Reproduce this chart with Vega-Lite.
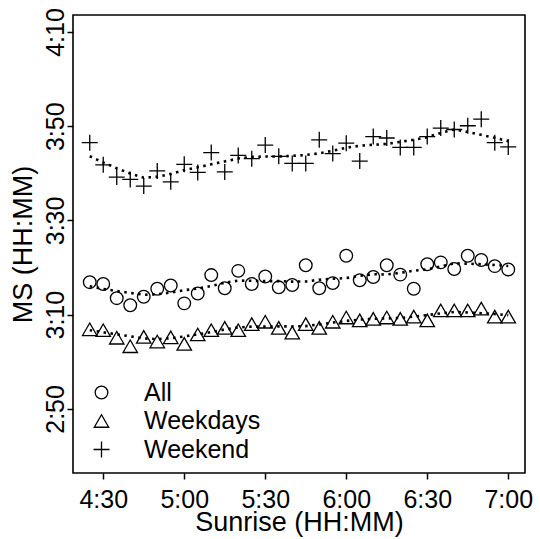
{
  "$schema": "https://vega.github.io/schema/vega-lite/v6.json",
  "width": 452,
  "height": 458,
  "autosize": {"type": "none"},
  "padding": {"left": 73, "top": 15, "right": 15, "bottom": 66},
  "background": "white",
  "config": {
    "view": {"stroke": "black", "strokeWidth": 1.6},
    "font": "Liberation Sans",
    "axis": {
      "grid": false,
      "domain": false,
      "tickColor": "black",
      "tickWidth": 1.5,
      "tickSize": 6,
      "labelColor": "black",
      "labelFontSize": 25,
      "labelFont": "Liberation Sans",
      "titleColor": "black",
      "titleFontSize": 27,
      "titleFontWeight": "normal",
      "titleFont": "Liberation Sans",
      "labelExpr": "floor(datum.value/60) + ':' + (datum.value % 60 < 10 ? '0' : '') + (datum.value % 60)"
    },
    "legend": {
      "title": null,
      "orient": "none",
      "legendX": 16,
      "legendY": 365,
      "padding": 0,
      "symbolStrokeColor": "black",
      "symbolStrokeWidth": 1.3,
      "symbolFillColor": "transparent",
      "labelFontSize": 25,
      "labelColor": "black",
      "labelFont": "Liberation Sans",
      "labelOffset": 30,
      "rowPadding": 2.5
    }
  },
  "data": {
    "values": [
      {"sunrise": 265, "series": "Weekend", "ms": 226.5},
      {"sunrise": 270, "series": "Weekend", "ms": 221.8},
      {"sunrise": 275, "series": "Weekend", "ms": 219.2},
      {"sunrise": 280, "series": "Weekend", "ms": 218.7},
      {"sunrise": 285, "series": "Weekend", "ms": 217.3},
      {"sunrise": 290, "series": "Weekend", "ms": 220.5},
      {"sunrise": 295, "series": "Weekend", "ms": 218.2},
      {"sunrise": 300, "series": "Weekend", "ms": 221.9},
      {"sunrise": 305, "series": "Weekend", "ms": 220.2},
      {"sunrise": 310, "series": "Weekend", "ms": 224.4},
      {"sunrise": 315, "series": "Weekend", "ms": 220.3},
      {"sunrise": 320, "series": "Weekend", "ms": 223.8},
      {"sunrise": 325, "series": "Weekend", "ms": 223.1},
      {"sunrise": 330, "series": "Weekend", "ms": 226.0},
      {"sunrise": 335, "series": "Weekend", "ms": 223.6},
      {"sunrise": 340, "series": "Weekend", "ms": 222.1},
      {"sunrise": 345, "series": "Weekend", "ms": 222.1},
      {"sunrise": 350, "series": "Weekend", "ms": 227.1},
      {"sunrise": 355, "series": "Weekend", "ms": 224.2},
      {"sunrise": 360, "series": "Weekend", "ms": 226.4},
      {"sunrise": 365, "series": "Weekend", "ms": 222.6},
      {"sunrise": 370, "series": "Weekend", "ms": 227.8},
      {"sunrise": 375, "series": "Weekend", "ms": 227.5},
      {"sunrise": 380, "series": "Weekend", "ms": 225.5},
      {"sunrise": 385, "series": "Weekend", "ms": 225.5},
      {"sunrise": 390, "series": "Weekend", "ms": 227.8},
      {"sunrise": 395, "series": "Weekend", "ms": 229.6},
      {"sunrise": 400, "series": "Weekend", "ms": 229.3},
      {"sunrise": 405, "series": "Weekend", "ms": 230.1},
      {"sunrise": 410, "series": "Weekend", "ms": 231.5},
      {"sunrise": 415, "series": "Weekend", "ms": 226.5},
      {"sunrise": 420, "series": "Weekend", "ms": 225.6},
      {"sunrise": 265, "series": "All", "ms": 196.9},
      {"sunrise": 270, "series": "All", "ms": 196.5},
      {"sunrise": 275, "series": "All", "ms": 193.5},
      {"sunrise": 280, "series": "All", "ms": 192.0},
      {"sunrise": 285, "series": "All", "ms": 193.8},
      {"sunrise": 290, "series": "All", "ms": 195.5},
      {"sunrise": 295, "series": "All", "ms": 196.2},
      {"sunrise": 300, "series": "All", "ms": 192.4},
      {"sunrise": 305, "series": "All", "ms": 194.5},
      {"sunrise": 310, "series": "All", "ms": 198.4},
      {"sunrise": 315, "series": "All", "ms": 195.6},
      {"sunrise": 320, "series": "All", "ms": 199.3},
      {"sunrise": 325, "series": "All", "ms": 196.5},
      {"sunrise": 330, "series": "All", "ms": 198.1},
      {"sunrise": 335, "series": "All", "ms": 195.8},
      {"sunrise": 340, "series": "All", "ms": 196.3},
      {"sunrise": 345, "series": "All", "ms": 200.5},
      {"sunrise": 350, "series": "All", "ms": 195.6},
      {"sunrise": 355, "series": "All", "ms": 196.7},
      {"sunrise": 360, "series": "All", "ms": 202.5},
      {"sunrise": 365, "series": "All", "ms": 197.3},
      {"sunrise": 370, "series": "All", "ms": 198.0},
      {"sunrise": 375, "series": "All", "ms": 200.5},
      {"sunrise": 380, "series": "All", "ms": 198.5},
      {"sunrise": 385, "series": "All", "ms": 195.5},
      {"sunrise": 390, "series": "All", "ms": 200.7},
      {"sunrise": 395, "series": "All", "ms": 201.1},
      {"sunrise": 400, "series": "All", "ms": 199.7},
      {"sunrise": 405, "series": "All", "ms": 202.5},
      {"sunrise": 410, "series": "All", "ms": 201.6},
      {"sunrise": 415, "series": "All", "ms": 200.3},
      {"sunrise": 420, "series": "All", "ms": 199.6},
      {"sunrise": 265, "series": "Weekdays", "ms": 186.9},
      {"sunrise": 270, "series": "Weekdays", "ms": 186.7},
      {"sunrise": 275, "series": "Weekdays", "ms": 185.1},
      {"sunrise": 280, "series": "Weekdays", "ms": 183.3},
      {"sunrise": 285, "series": "Weekdays", "ms": 185.3},
      {"sunrise": 290, "series": "Weekdays", "ms": 184.3},
      {"sunrise": 295, "series": "Weekdays", "ms": 185.2},
      {"sunrise": 300, "series": "Weekdays", "ms": 183.8},
      {"sunrise": 305, "series": "Weekdays", "ms": 185.8},
      {"sunrise": 310, "series": "Weekdays", "ms": 186.7},
      {"sunrise": 315, "series": "Weekdays", "ms": 187.2},
      {"sunrise": 320, "series": "Weekdays", "ms": 186.7},
      {"sunrise": 325, "series": "Weekdays", "ms": 188.0},
      {"sunrise": 330, "series": "Weekdays", "ms": 188.5},
      {"sunrise": 335, "series": "Weekdays", "ms": 187.2},
      {"sunrise": 340, "series": "Weekdays", "ms": 186.2},
      {"sunrise": 345, "series": "Weekdays", "ms": 188.0},
      {"sunrise": 350, "series": "Weekdays", "ms": 187.2},
      {"sunrise": 355, "series": "Weekdays", "ms": 188.5},
      {"sunrise": 360, "series": "Weekdays", "ms": 189.4},
      {"sunrise": 365, "series": "Weekdays", "ms": 188.8},
      {"sunrise": 370, "series": "Weekdays", "ms": 189.1},
      {"sunrise": 375, "series": "Weekdays", "ms": 189.4},
      {"sunrise": 380, "series": "Weekdays", "ms": 189.1},
      {"sunrise": 385, "series": "Weekdays", "ms": 189.6},
      {"sunrise": 390, "series": "Weekdays", "ms": 188.8},
      {"sunrise": 395, "series": "Weekdays", "ms": 190.9},
      {"sunrise": 400, "series": "Weekdays", "ms": 190.9},
      {"sunrise": 405, "series": "Weekdays", "ms": 190.9},
      {"sunrise": 410, "series": "Weekdays", "ms": 191.3},
      {"sunrise": 415, "series": "Weekdays", "ms": 189.6},
      {"sunrise": 420, "series": "Weekdays", "ms": 189.6}
    ]
  },
  "encoding": {
    "x": {
      "field": "sunrise",
      "type": "quantitative",
      "scale": {"domain": [258.8, 426.2], "nice": false, "zero": false},
      "axis": {
        "title": "Sunrise (HH:MM)",
        "values": [270, 300, 330, 360, 390, 420],
        "labelPadding": 8,
        "titleBaseline": "alphabetic",
        "titleY": 57
      }
    },
    "y": {
      "field": "ms",
      "type": "quantitative",
      "scale": {"domain": [156.4, 253.6], "nice": false, "zero": false},
      "axis": {
        "title": "MS (HH:MM)",
        "values": [170, 190, 210, 230, 250],
        "labelAngle": -90,
        "labelAlign": "center",
        "labelBaseline": "alphabetic",
        "labelPadding": 4,
        "titleAngle": -90,
        "titleAlign": "center",
        "titleBaseline": "alphabetic",
        "titleX": -42,
        "titleY": 229
      }
    }
  },
  "layer": [
    {
      "transform": [{"loess": "ms", "on": "sunrise", "groupby": ["series"], "bandwidth": 0.3}],
      "mark": {"type": "line", "color": "black", "strokeWidth": 2.6, "strokeDash": [2.5, 4.5], "strokeCap": "butt"},
      "encoding": {"detail": {"field": "series"}}
    },
    {
      "mark": {"type": "point", "filled": false, "color": "black", "strokeWidth": 1.3, "opacity": 1},
      "encoding": {
        "shape": {
          "field": "series",
          "type": "nominal",
          "scale": {"domain": ["All", "Weekdays", "Weekend"], "range": ["circle", "triangle-up", "M-1,0H1M0,-1V1"]}
        },
        "size": {
          "field": "series",
          "type": "nominal",
          "scale": {"domain": ["All", "Weekdays", "Weekend"], "range": [160, 256, 289]}
        }
      }
    }
  ]
}
